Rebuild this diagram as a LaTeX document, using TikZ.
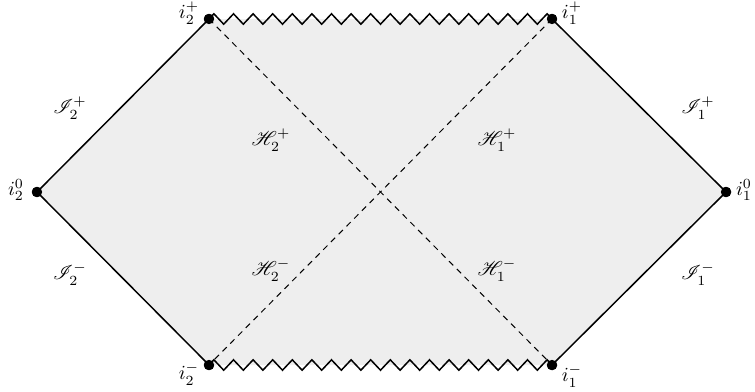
\documentclass[tikz,border=0pt]{standalone}
\usepackage{amsmath, amssymb, mathrsfs}
\usetikzlibrary{decorations.pathmorphing}
\definecolor{cRegion}{HTML}{EEEEEE}

\begin{document}
\begin{tikzpicture}[
  x=0.5pt, y=-0.5pt,
  dot/.style={circle, fill=black, inner sep=0pt, minimum size=5.2pt},
  bnd/.style={line width=0.75pt, line join=miter},
  sing/.style={line width=0.75pt, decorate,
    decoration={zigzag, segment length=9.8pt, amplitude=2.6pt}},
  hor/.style={dashed, line width=0.5pt, dash pattern=on 3pt off 2.5pt},
  lbl/.style={inner sep=0pt},
]
% frame
\useasboundingbox (0,0) rectangle (755,391);

% corners of the diagram
\node[dot] (i20) at (37,192)  {};
\node[dot] (i2p) at (209,19)  {};
\node[dot] (i1p) at (552,19)  {};
\node[dot] (i10) at (726,192) {};
\node[dot] (i1m) at (552,365) {};
\node[dot] (i2m) at (209,365) {};

% shaded region
\fill[cRegion] (i20.center) -- (i2p.center) -- (i1p.center) -- (i10.center)
  -- (i1m.center) -- (i2m.center) -- cycle;

% horizons
\draw[hor] (i2p.center) -- (i1m.center);
\draw[hor] (i1p.center) -- (i2m.center);

% null infinity
\draw[bnd] (i2m.center) -- (i20.center) -- (i2p.center);
\draw[bnd] (i1p.center) -- (i10.center) -- (i1m.center);

% singularities
\draw[sing] (i2p.center) -- (i1p.center);
\draw[sing] (i2m.center) -- (i1m.center);

\node[dot] at (i20) {};
\node[dot] at (i2p) {};
\node[dot] at (i1p) {};
\node[dot] at (i10) {};
\node[dot] at (i1m) {};
\node[dot] at (i2m) {};

% labels of the points
\node[lbl] (li2p) at (189,13)  {$i_2^+$};
\node[lbl] (li1p) at (572,13)  {$i_1^+$};
\node[lbl] (li20) at (16,190)  {$i_2^0$};
\node[lbl] (li10) at (744,190) {$i_1^0$};
\node[lbl] (li2m) at (189,374) {$i_2^-$};
\node[lbl] (li1m) at (572,376) {$i_1^-$};

% null infinity labels
\node[lbl] (s2p) at (70,108)  {$\mathscr{I}_2^+$};
\node[lbl] (s1p) at (698,108) {$\mathscr{I}_1^+$};
\node[lbl] (s2m) at (70,274)  {$\mathscr{I}_2^-$};
\node[lbl] (s1m) at (698,274) {$\mathscr{I}_1^-$};

% horizon labels
\node[lbl] (h2p) at (271,140) {$\mathscr{H}_2^+$};
\node[lbl] (h1p) at (497,140) {$\mathscr{H}_1^+$};
\node[lbl] (h2m) at (271,270) {$\mathscr{H}_2^-$};
\node[lbl] (h1m) at (497,270) {$\mathscr{H}_1^-$};

\end{tikzpicture}
\end{document}
